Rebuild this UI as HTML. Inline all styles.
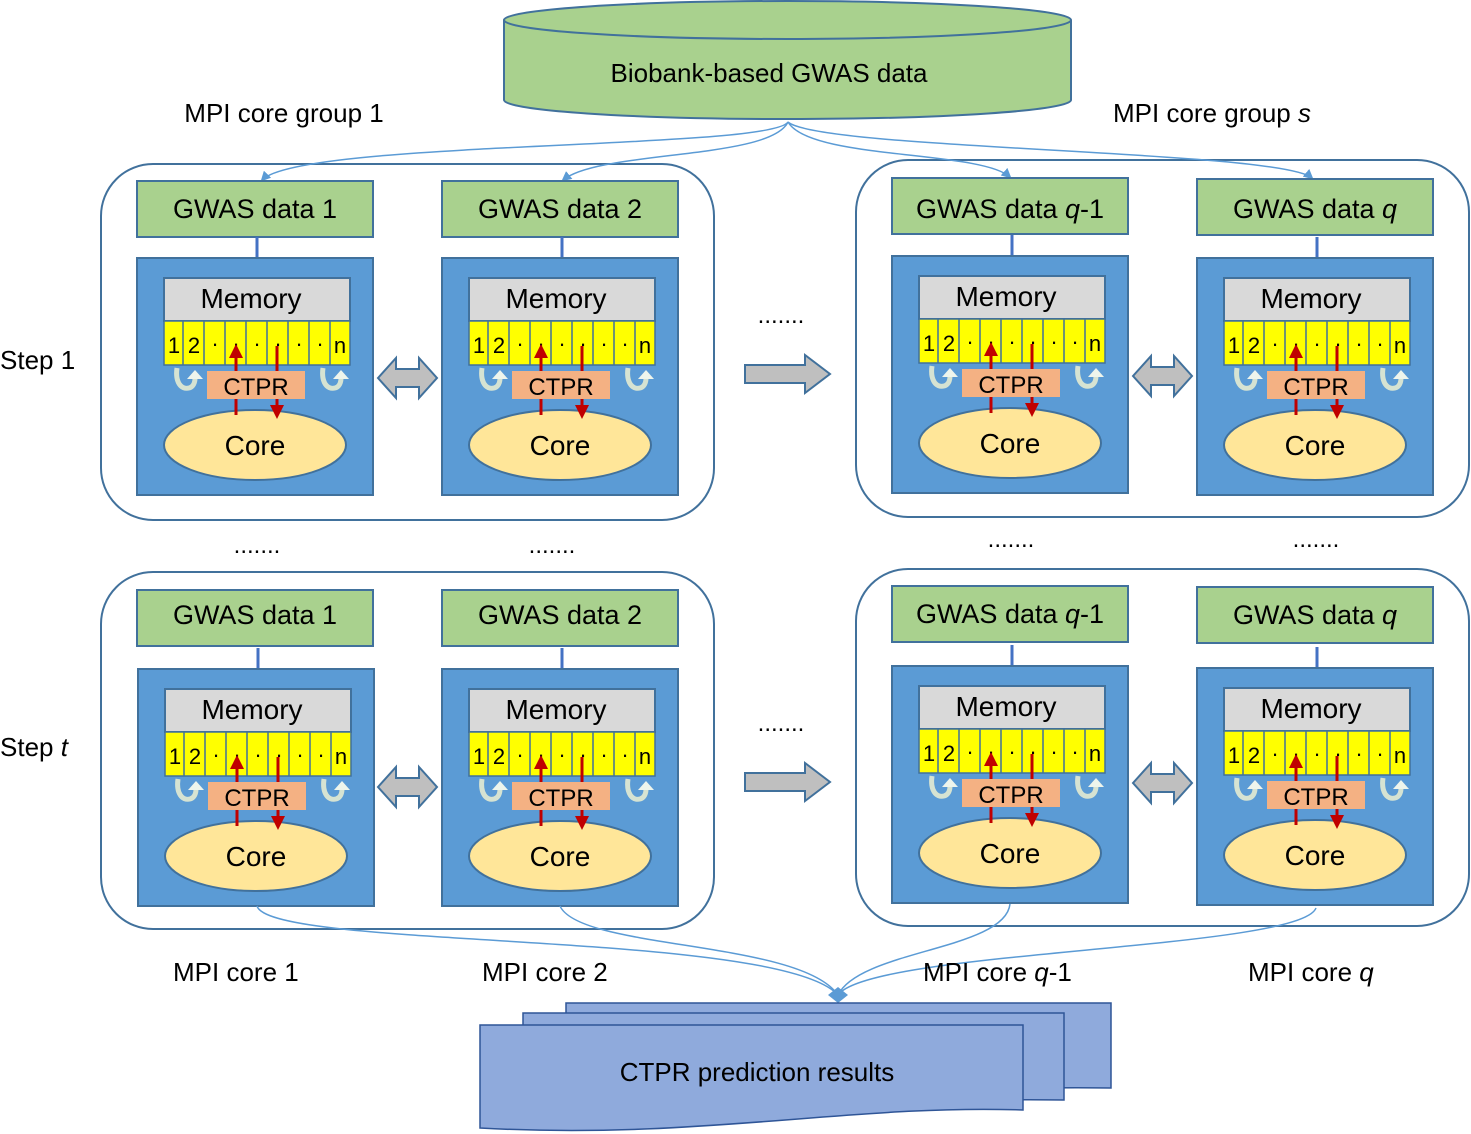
<!DOCTYPE html>
<html><head><meta charset="utf-8"><style>
html,body{margin:0;padding:0;background:#fff;}
svg{display:block;font-family:"Liberation Sans",Arial,sans-serif;}
</style></head><body>
<svg width="1471" height="1134" viewBox="0 0 1471 1134" xmlns="http://www.w3.org/2000/svg">
<defs>
<marker id="ah" markerWidth="10" markerHeight="10" refX="8" refY="5" orient="auto" markerUnits="userSpaceOnUse"><path d="M0,0 L10,5 L0,10 z" fill="#5b9bd5"/></marker>
<g id="curl">
  <path d="M0,0 C-2,14 4,22 12,20 C16,19 18,15 18,10" fill="none" stroke="#d6e3d2" stroke-width="5"/>
  <path d="M18,2 l-8,9 h16 z" fill="#eef5ec"/>
</g>
<g id="body">
  <line x1="120" y1="56" x2="120" y2="77" stroke="#4472c4" stroke-width="3"/>
  <rect x="0" y="77" width="236" height="237" fill="#5b9bd5" stroke="#41719c" stroke-width="2"/>
  <rect x="27" y="97" width="186" height="43" fill="#d9d9d9" stroke="#41719c" stroke-width="2"/>
  <text x="114" y="127" font-size="28" text-anchor="middle">Memory</text>
  <rect x="27" y="140" width="186" height="44" fill="#ffff00" stroke="#41719c" stroke-width="1.5"/>
  <g stroke="#41719c" stroke-width="1.5">
    <line x1="46" y1="140" x2="46" y2="184"/><line x1="67" y1="140" x2="67" y2="184"/><line x1="88" y1="140" x2="88" y2="184"/><line x1="109" y1="140" x2="109" y2="184"/><line x1="130" y1="140" x2="130" y2="184"/><line x1="151" y1="140" x2="151" y2="184"/><line x1="172" y1="140" x2="172" y2="184"/><line x1="193" y1="140" x2="193" y2="184"/>
  </g>
  <g font-size="22" text-anchor="middle">
    <text x="37" y="172">1</text><text x="57" y="172">2</text><text x="78" y="170">·</text><text x="99" y="170">·</text><text x="120" y="170">·</text><text x="141" y="170">·</text><text x="162" y="170">·</text><text x="183" y="170">·</text><text x="203" y="172">n</text>
  </g>
  <use href="#curl" x="40" y="187"/>
  <use href="#curl" x="186" y="187"/>
  <ellipse cx="118" cy="264" rx="91" ry="35" fill="#ffe699" stroke="#41719c" stroke-width="2"/>
  <text x="118" y="274" font-size="28" text-anchor="middle">Core</text>
  <line x1="99" y1="234" x2="99" y2="176" stroke="#c00000" stroke-width="3"/>
  <path d="M99,163 l-7,14 h14 z" fill="#c00000"/>
  <line x1="140" y1="165" x2="140" y2="225" stroke="#c00000" stroke-width="3"/>
  <path d="M140,238 l-7,-14 h14 z" fill="#c00000"/>
  <rect x="70" y="190" width="98" height="28" fill="#f4b183"/>
  <text x="119" y="214" font-size="24" text-anchor="middle">CTPR</text>
</g>
<path id="dbl" d="M0,20 L18,0 V11 H41 V0 L59,20 L41,40 V29 H18 V40 Z" fill="#bfbfbf" stroke="#41719c" stroke-width="2"/>
<path id="rar" d="M0,10 H60 V0 L85,19 L60,38 V28 H0 Z" fill="#bfbfbf" stroke="#41719c" stroke-width="2"/>
</defs>

<path d="M504,20 V100 A283,19 0 0 0 1071,100 V20" fill="#a9d18e" stroke="#41719c" stroke-width="2"/>
<ellipse cx="787.5" cy="20" rx="283.5" ry="19" fill="#a9d18e" stroke="#41719c" stroke-width="2"/>
<text x="769" y="82" font-size="26" text-anchor="middle">Biobank-based GWAS data</text>

<text x="284" y="122" font-size="26" text-anchor="middle">MPI core group 1</text>
<text x="1113" y="122" font-size="26">MPI core group <tspan font-style="italic">s</tspan></text>

<g fill="none" stroke="#41719c" stroke-width="2">
<rect x="101" y="164" width="613" height="356" rx="52"/>
<rect x="856" y="160" width="613" height="357" rx="52"/>
<rect x="101" y="572" width="613" height="357" rx="52"/>
<rect x="856" y="569" width="613" height="357" rx="52"/>
</g>

<g fill="none" stroke="#5b9bd5" stroke-width="1.5" marker-end="url(#ah)">
<path d="M788,122 C770,150 300,140 262,180"/>
<path d="M788,122 C770,160 600,150 563,180"/>
<path d="M788,122 C810,160 980,150 1010,177"/>
<path d="M788,122 C820,150 1280,150 1312,178"/>
</g>

<g transform="translate(137,181)"><rect width="236" height="56" fill="#a9d18e" stroke="#41719c" stroke-width="2"/><text x="118" y="37" font-size="27" text-anchor="middle">GWAS data 1</text><use href="#body"/></g>
<g transform="translate(442,181)"><rect width="236" height="56" fill="#a9d18e" stroke="#41719c" stroke-width="2"/><text x="118" y="37" font-size="27" text-anchor="middle">GWAS data 2</text><use href="#body"/></g>
<g transform="translate(892,178)"><rect width="236" height="56" fill="#a9d18e" stroke="#41719c" stroke-width="2"/><text x="118" y="40" font-size="27" text-anchor="middle">GWAS data <tspan font-style="italic">q</tspan>-1</text><use href="#body" transform="translate(0,1)"/></g>
<g transform="translate(1197,179)"><rect width="236" height="56" fill="#a9d18e" stroke="#41719c" stroke-width="2"/><text x="118" y="39" font-size="27" text-anchor="middle">GWAS data <tspan font-style="italic">q</tspan></text><use href="#body" transform="translate(0,2)"/></g>

<g transform="translate(137,590)"><rect width="236" height="56" fill="#a9d18e" stroke="#41719c" stroke-width="2"/><text x="118" y="34" font-size="27" text-anchor="middle">GWAS data 1</text><use href="#body" transform="translate(1,2)"/></g>
<g transform="translate(442,590)"><rect width="236" height="56" fill="#a9d18e" stroke="#41719c" stroke-width="2"/><text x="118" y="34" font-size="27" text-anchor="middle">GWAS data 2</text><use href="#body" transform="translate(0,2)"/></g>
<g transform="translate(892,586)"><rect width="236" height="56" fill="#a9d18e" stroke="#41719c" stroke-width="2"/><text x="118" y="37" font-size="27" text-anchor="middle">GWAS data <tspan font-style="italic">q</tspan>-1</text><use href="#body" transform="translate(0,3)"/></g>
<g transform="translate(1197,587)"><rect width="236" height="56" fill="#a9d18e" stroke="#41719c" stroke-width="2"/><text x="118" y="37" font-size="27" text-anchor="middle">GWAS data <tspan font-style="italic">q</tspan></text><use href="#body" transform="translate(0,4)"/></g>

<use href="#dbl" x="378" y="358"/>
<use href="#dbl" x="1133" y="356"/>
<use href="#dbl" x="378" y="767"/>
<use href="#dbl" x="1133" y="763"/>
<use href="#rar" x="745" y="355"/>
<use href="#rar" x="745" y="763"/>

<g font-size="24" text-anchor="middle">
<text x="781" y="323">.......</text>
<text x="781" y="731">.......</text>
<text x="257" y="553">.......</text>
<text x="552" y="553">.......</text>
<text x="1011" y="547">.......</text>
<text x="1316" y="547">.......</text>
</g>

<text x="0" y="369" font-size="26">Step 1</text>
<text x="0" y="756" font-size="26">Step <tspan font-style="italic">t</tspan></text>

<g fill="none" stroke="#5b9bd5" stroke-width="1.5">
<path d="M257,906 C270,950 780,930 838,995"/>
<path d="M560,906 C580,950 800,940 838,995"/>
<path d="M1010,904 C1005,950 860,950 838,995"/>
<path d="M1316,908 C1300,950 870,950 838,995"/>
</g>
<path d="M838,987 l-10,8 l10,8 l10,-8 z" fill="#5b9bd5"/>

<g font-size="26">
<text x="173" y="981">MPI core 1</text>
<text x="482" y="981">MPI core 2</text>
<text x="923" y="981">MPI core <tspan font-style="italic">q</tspan>-1</text>
<text x="1248" y="981">MPI core <tspan font-style="italic">q</tspan></text>
</g>

<g fill="#8faadc" stroke="#2f5597" stroke-width="1.5">
<path d="M566,1003 H1111 V1088 C1000,1086 900,1094 566,1088 Z"/>
<path d="M523,1013 H1064 V1100 C950,1098 850,1106 523,1100 Z"/>
<path d="M480,1025 H1023 V1110 C850,1104 700,1140 480,1128 Z"/>
</g>
<text x="757" y="1081" font-size="26" text-anchor="middle">CTPR prediction results</text>
</svg>
</body></html>
